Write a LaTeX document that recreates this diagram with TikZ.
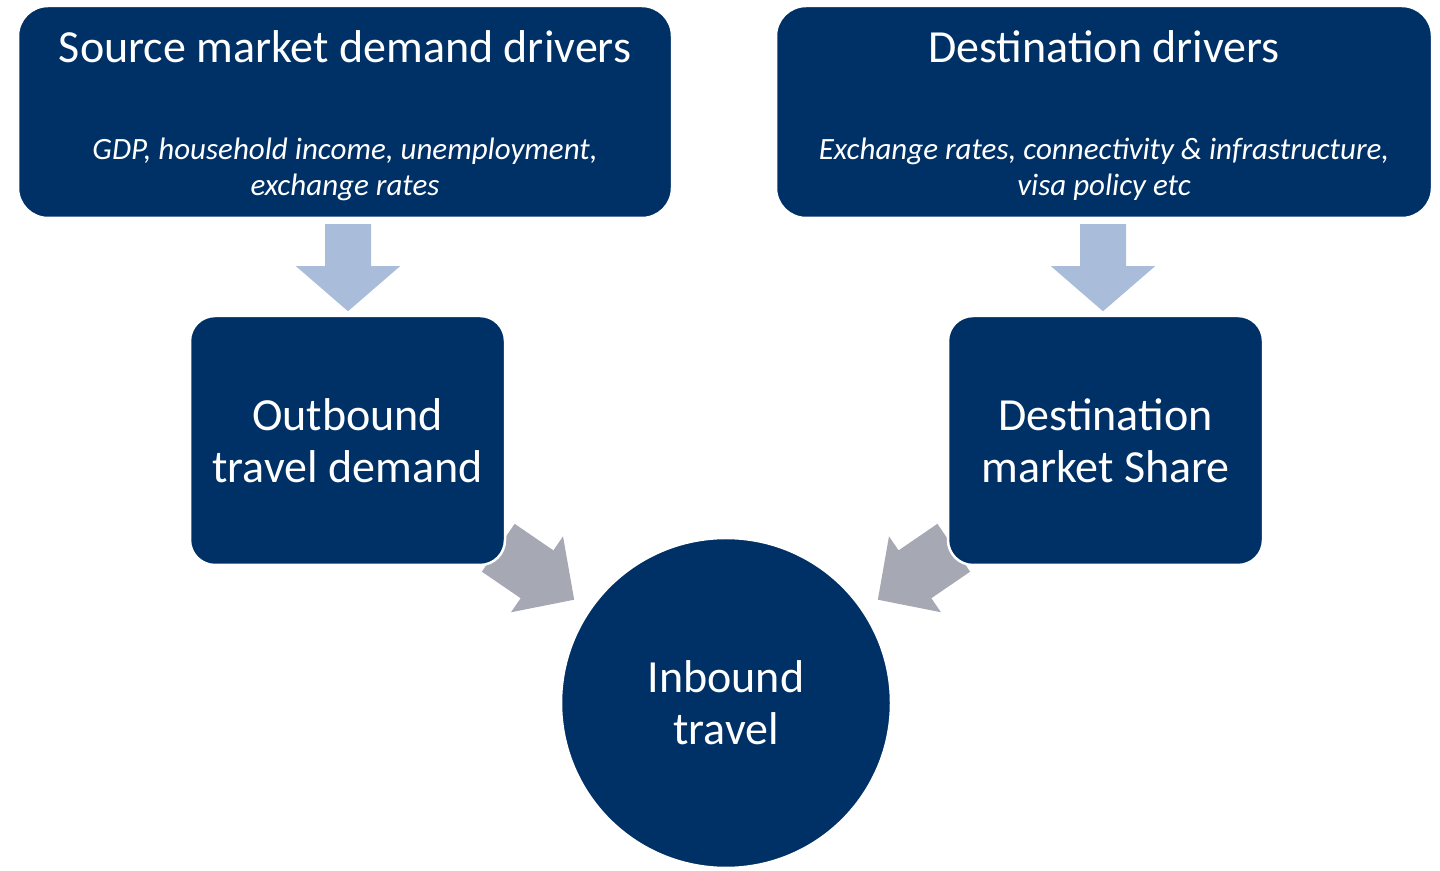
\documentclass[tikz,border=0pt]{standalone}
\usepackage{fontspec}
\setmainfont{Carlito}
\usetikzlibrary{calc,backgrounds}
\definecolor{navy}{RGB}{0,49,102}
\definecolor{arrowblue}{RGB}{169,188,218}
\definecolor{arrowgray}{RGB}{166,168,180}
\tikzset{
  downarr/.pic={\path[pic actions] (0,-23) -- (42,-23) -- (42,-52) -- (87,0) -- (42,52) -- (42,23) -- (0,23) -- cycle;},
  diagarr/.pic={\path[pic actions] (0,-29) -- (47,-29) -- (47,-46) -- (92,0) -- (47,46) -- (47,29) -- (0,29) -- cycle;}
}
\begin{document}
\begin{tikzpicture}[x=1pt,y=1pt,
  box/.style={fill=navy, draw=white, line width=2.5pt, inner sep=0pt, text=white},
  bigtext/.style={font=\fontsize{46}{52}\selectfont, text=white, align=center},
  subtext/.style={font=\fontsize{31}{37}\selectfont\itshape, text=white, align=center},
]
\useasboundingbox (0,0) rectangle (1440,870);
% top boxes
\node[box, rounded corners=30pt, minimum width=654pt, minimum height=212pt] (srcbox) at (345,758) {};
\node[box, rounded corners=30pt, minimum width=656pt, minimum height=212pt] (destbox) at (1104,758) {};
\node[bigtext, anchor=base] (srctitle) at (345,807) {Source market demand drivers};
\node[bigtext, anchor=base] (desttitle) at (1104,807) {Destination drivers};
\node[subtext, anchor=base] (srcsub1) at (345,710) {GDP, household income, unemployment,};
\node[subtext, anchor=base] (srcsub2) at (345,674) {exchange rates};
\node[subtext, anchor=base] (destsub1) at (1104,710) {Exchange rates, connectivity \& infrastructure,};
\node[subtext, anchor=base] (destsub2) at (1104,674) {visa policy etc};
% middle boxes
\node[box, bigtext, rounded corners=25pt, minimum width=315pt, minimum height=249pt] (outbound) at (347.5,429.5) {Outbound\\travel demand};
\node[box, bigtext, rounded corners=25pt, minimum width=315pt, minimum height=249pt] (share) at (1105.5,429.5) {Destination\\market Share};
% circle
\node[box, bigtext, circle, minimum size=330pt] (inbound) at (726,167) {Inbound\\travel};
% arrows
\begin{scope}[on background layer]
  \pic[fill=arrowblue, rotate=-90] at ($(srcbox.south)+(3,-5)$) {downarr};
  \pic[fill=arrowblue, rotate=-90] at ($(destbox.south)+(-1,-5)$) {downarr};
  \pic[fill=arrowgray, rotate=-34.4] at ($(outbound.south east)+(-8,18.5)$) {diagarr};
  \pic[fill=arrowgray, rotate=214.4] at ($(share.south west)+(7,18.5)$) {diagarr};
\end{scope}
\end{tikzpicture}
\end{document}
